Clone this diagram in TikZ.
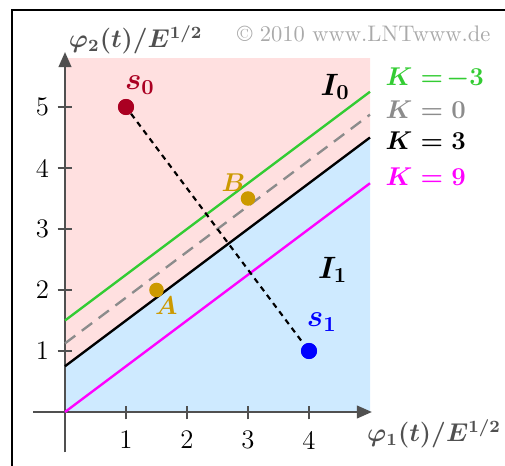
\documentclass[tikz,border=0pt]{standalone}
\usepackage{amsmath}
\usetikzlibrary{arrows.meta,positioning}
\definecolor{areapink}{RGB}{255,224,224}
\definecolor{areablue}{RGB}{206,234,255}
\definecolor{kgreen}{RGB}{51,204,51}
\definecolor{kgray}{RGB}{140,140,140}
\definecolor{kmagenta}{RGB}{255,0,255}
\definecolor{sred}{RGB}{170,0,34}
\definecolor{sblue}{RGB}{0,0,255}
\definecolor{pgold}{RGB}{204,153,0}
\definecolor{axisgray}{RGB}{80,80,80}
\definecolor{copygray}{RGB}{170,170,170}

\begin{document}
\begin{tikzpicture}[
  font=\fontsize{12.5}{14}\selectfont,
  axis/.style={draw=axisgray, line width=0.7pt, -{Triangle[length=7pt,width=6pt]}},
  tickmark/.style={draw=axisgray, line width=0.6pt},
  kline/.style={line width=1.1pt},
  dot/.style={circle, fill, inner sep=0pt, minimum size=7.5pt},
  pdot/.style={circle, fill=pgold, inner sep=0pt, minimum size=6.8pt},
  lbl/.style={font=\fontsize{12.5}{14}\selectfont\boldmath, inner sep=0pt},
  slbl/.style={font=\fontsize{14.5}{16}\selectfont\boldmath, inner sep=0pt},
  axlbl/.style={font=\fontsize{12}{14}\selectfont\boldmath, text=axisgray, inner sep=0pt}
]
\useasboundingbox (-1.0656,-0.885) rectangle (7.213,6.754);
% frame
\draw[line width=1.1pt] (-0.869,-1.2) -- (-0.869,6.59) -- (7.5,6.59);

% decision regions
\fill[areablue] (0,0) -- (5,0) -- (5,4.5) -- (0,0.75) -- cycle;
\fill[areapink] (0,0.75) -- (5,4.5) -- (5,5.8) -- (0,5.8) -- cycle;

% axes
\coordinate (xstart) at (-0.52,0);
\coordinate (xend) at (5.03,0);
\coordinate (ystart) at (0,-0.66);
\coordinate (yend) at (0,5.9);
\draw[axis] (xstart) -- (xend);
\draw[axis] (ystart) -- (yend);
\foreach \i in {1,...,4} {
  \draw[tickmark] (\i,-0.12) -- (\i,0.1);
  \node (xt\i) at (\i,-0.46) {\i};
}
\foreach \i in {1,...,5} {
  \draw[tickmark] (-0.12,\i) -- (0.12,\i);
  \node (yt\i) at (-0.37,\i) {\i};
}
\node[axlbl] (ylab) at (1.16,6.1) {$\varphi_2(t)/E^{1/2}$};
\node[axlbl] (xlab) at (6.05,-0.36) {$\varphi_1(t)/E^{1/2}$};
\node[text=copygray, font=\fontsize{10.5}{12}\selectfont, anchor=east, inner sep=0pt] (copy) at (6.98,6.2) {\copyright{} 2010 www.LNTwww.de};

% lines of constant K
\coordinate (gA) at (0,1.5);   \coordinate (gB) at (5,5.25);
\coordinate (zA) at (0,1.125); \coordinate (zB) at (5,4.875);
\coordinate (bA) at (0,0.75);  \coordinate (bB) at (5,4.5);
\coordinate (mA) at (0,0);     \coordinate (mB) at (5,3.75);
\draw[kline, kgreen] (gA) -- (gB);
\draw[kline, kgray, dash pattern=on 6pt off 3.8pt] (zA) -- (zB);
\draw[kline, black] (bA) -- (bB);
\draw[kline, kmagenta] (mA) -- (mB);
\node[lbl, text=kgreen, anchor=west] (kg) at (5.25,5.47) {$K=\!-3$};
\node[lbl, text=kgray, anchor=west] (kz) at (5.25,4.96) {$K=0$};
\node[lbl, text=black, anchor=west] (kb) at (5.25,4.44) {$K=3$};
\node[lbl, text=kmagenta, anchor=west] (km) at (5.25,3.85) {$K=9$};

% signal points
\node[dot, sred] (s0) at (1,5) {};
\node[dot, sblue] (s1) at (4,1) {};
\draw[line width=1pt, dash pattern=on 2.6pt off 2.2pt] (s0) -- (s1);
\node[dot, sred] at (s0) {};
\node[dot, sblue] at (s1) {};
\node[slbl, text=sred, above right=0.1cm and -0.12cm of s0] (s0lbl) {$s_0$};
\node[slbl, text=sblue, above right=0.22cm and -0.14cm of s1] (s1lbl) {$s_1$};
\node[pdot] (A) at (1.5,2) {};
\node[pdot] (B) at (3,3.5) {};
\node[lbl, text=pgold, below right=0.02cm and -0.12cm of A] (Albl) {$A$};
\node[lbl, text=pgold, above left=0.02cm and -0.05cm of B] (Blbl) {$B$};

% regions
\node[slbl] (I0) at (4.43,5.33) {$I_0$};
\node[slbl] (I1) at (4.39,2.33) {$I_1$};
\end{tikzpicture}
\end{document}
